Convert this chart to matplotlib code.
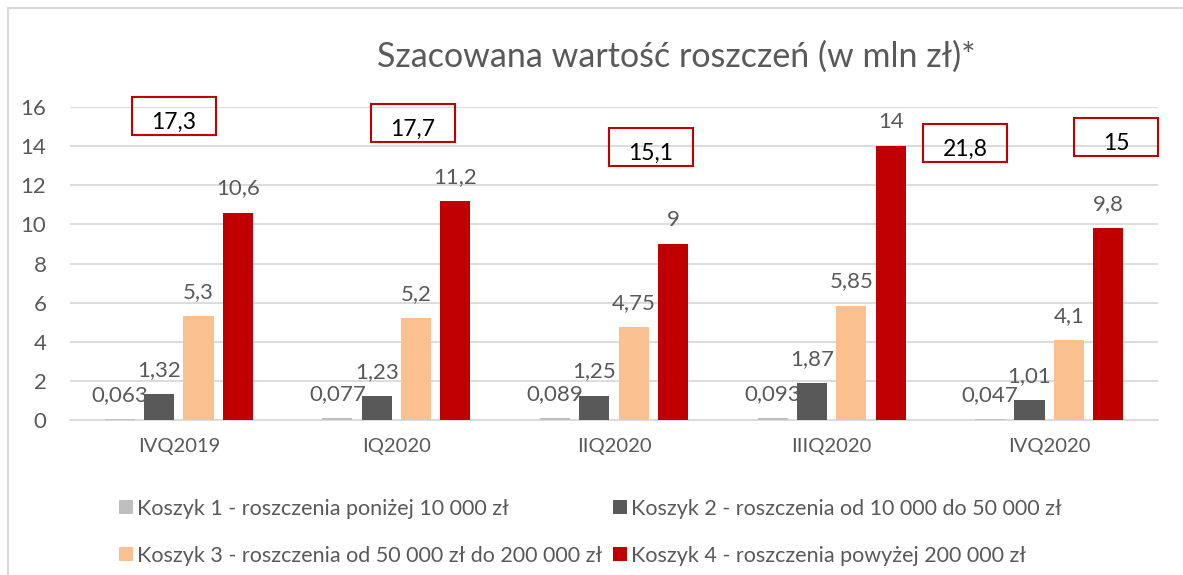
import matplotlib
matplotlib.use("Agg")
import matplotlib.pyplot as plt
from matplotlib.patches import Rectangle
from matplotlib.lines import Line2D
import numpy as np

categories = ["IVQ2019", "IQ2020", "IIQ2020", "IIIQ2020", "IVQ2020"]
series_names = [
    "Koszyk 1 - roszczenia poniżej 10 000 zł",
    "Koszyk 2 - roszczenia od 10 000 do 50 000 zł",
    "Koszyk 3 - roszczenia od 50 000 zł do 200 000 zł",
    "Koszyk 4 - roszczenia powyżej 200 000 zł",
]
koszyk1 = [0.063, 0.077, 0.089, 0.093, 0.047]
koszyk2 = [1.32, 1.23, 1.25, 1.87, 1.01]
koszyk3 = [5.3, 5.2, 4.75, 5.85, 4.1]
koszyk4 = [10.6, 11.2, 9.0, 14.0, 9.8]
label1 = ["0,063", "0,077", "0,089", "0,093", "0,047"]
label2 = ["1,32", "1,23", "1,25", "1,87", "1,01"]
label3 = ["5,3", "5,2", "4,75", "5,85", "4,1"]
label4 = ["10,6", "11,2", "9", "14", "9,8"]
totals = ["17,3", "17,7", "15,1", "21,8", "15"]
# positions of the red total boxes (category offset, value centre)
box_x = [-0.022, 1.076, 2.170, 3.613, 4.307]
box_y = [15.54, 15.18, 13.96, 14.16, 14.47]

colors = ["#BFBFBF", "#595959", "#FAC090", "#C00000"]
txt = "#595959"
font = ["Lato", "DejaVu Sans"]
legfont = ["Lato", "DejaVu Sans"]

fig = plt.figure(figsize=(11.83, 5.75), dpi=100)
ax = fig.add_axes([70/1183, 1-420/575, (1158-70)/1183, (420-107)/575])

x = np.arange(len(categories))
w = 0.138
step = 0.181
series = [koszyk1, koszyk2, koszyk3, koszyk4]
labels = [label1, label2, label3, label4]
handles = []
for i, (vals, labs) in enumerate(zip(series, labels)):
    pos = x + (i - 1.5) * step
    b = ax.bar(pos, vals, w, color=colors[i], zorder=3, label=series_names[i])
    handles.append(b)
    for p, v, l in zip(pos, vals, labs):
        ax.annotate(l, (p, v), xytext=(0, 13), textcoords="offset points",
                    ha="center", va="baseline", fontsize=16, color=txt,
                    family=font, zorder=5)

for bx, by, t in zip(box_x, box_y, totals):
    bw, bh = 0.386, 1.94
    ax.add_patch(Rectangle((bx - bw/2, by - bh/2), bw, bh, fill=False,
                           edgecolor="#C00000", linewidth=1.5, clip_on=False, zorder=6))
    ax.text(bx, by - 0.33, t, ha="center", va="center", fontsize=16.5,
            color="black", family=font, zorder=7)

ax.set_xlim(-0.5, 4.5)
ax.set_ylim(0, 16)
ax.set_yticks(range(0, 17, 2))
ax.set_xticks(x)
ax.set_xticklabels(categories)
ax.grid(axis="y", color="#D9D9D9", linewidth=1.3, zorder=0)
ax.set_axisbelow(True)
for s in ["top", "right", "left"]:
    ax.spines[s].set_visible(False)
ax.spines["bottom"].set_color("#D9D9D9")
ax.spines["bottom"].set_linewidth(1.3)
ax.tick_params(axis="both", length=0, labelcolor=txt)
ax.tick_params(axis="y", pad=17, labelsize=16)
ax.tick_params(axis="x", pad=13, labelsize=14.5)
for lab in ax.get_xticklabels() + ax.get_yticklabels():
    lab.set_family(font)

fig.text(676/1183, 1-57/575, "Szacowana wartość roszczeń (w mln zł)*",
         ha="center", va="center", fontsize=24.5, color=txt, family=font)

order = [0, 2, 1, 3]
leg = fig.legend([handles[i] for i in order], [series_names[i] for i in order],
                 ncol=2, loc="upper left", bbox_to_anchor=(110/1183, 1-490/575),
                 frameon=False, handlelength=0.65, handleheight=0.65,
                 handletextpad=0.2, columnspacing=0.5, labelspacing=1.25,
                 prop={"family": legfont, "size": 15.5}, borderaxespad=0)
for t in leg.get_texts():
    t.set_color(txt)

# outer border (left and top)
fig.add_artist(Line2D([8/1183, 8/1183], [0, 1-8/575], color="#D9D9D9", lw=1.5,
                      transform=fig.transFigure))
fig.add_artist(Line2D([8/1183, 1], [1-8/575, 1-8/575], color="#D9D9D9", lw=1.5,
                      transform=fig.transFigure))

fig.savefig("out.png", dpi=100)
